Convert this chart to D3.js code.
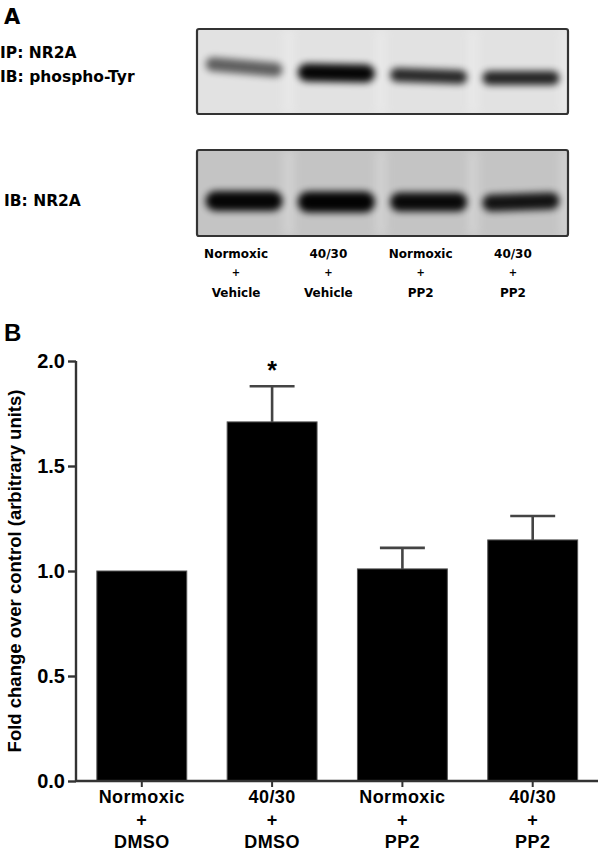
<!DOCTYPE html>
<html>
<head>
<meta charset="utf-8">
<script src="https://cdn.jsdelivr.net/npm/d3@7"></script>
<style>
  body { margin: 0; background: #fff; }
  svg { display: block; }
</style>
</head>
<body>
<script>
// panel A: blot lanes and band strengths (0..1)
var blotLanes = ['Normoxic + Vehicle', '40/30 + Vehicle', 'Normoxic + PP2', '40/30 + PP2'];
var blotLaneLines = [['Normoxic', '+', 'Vehicle'], ['40/30', '+', 'Vehicle'], ['Normoxic', '+', 'PP2'], ['40/30', '+', 'PP2']];
var phosphoBand = [0.58, 0.97, 0.82, 0.84];
var totalBand = [0.97, 0.98, 0.95, 0.9];

// panel B: fold change over control
var groups = ['Normoxic + DMSO', '40/30 + DMSO', 'Normoxic + PP2', '40/30 + PP2'];
var groupLines = [['Normoxic', '+', 'DMSO'], ['40/30', '+', 'DMSO'], ['Normoxic', '+', 'PP2'], ['40/30', '+', 'PP2']];
var foldChange = [1.0, 1.71, 1.01, 1.148];
var sem = [0, 0.17, 0.1, 0.114];
var significant = [false, true, false, false];
var yTicks = [0.0, 0.5, 1.0, 1.5, 2.0];

var width = 600, height = 852;

var svg = d3.select('body').append('svg')
    .attr('width', width)
    .attr('height', height);

var defs = svg.append('defs');
defs.append('filter').attr('id', 'blur')
    .attr('x', '-30%').attr('y', '-150%').attr('width', '160%').attr('height', '400%')
  .append('feGaussianBlur').attr('stdDeviation', 3.8);
defs.append('filter').attr('id', 'soft')
    .attr('x', '-100%').attr('width', '300%')
  .append('feGaussianBlur').attr('stdDeviation', 5);

var labelFont = '"DejaVu Sans", "Noto Sans", sans-serif';
var plotFont = '"Liberation Sans", Arial, sans-serif';

// ---------- panel A ----------
svg.append('text')
    .attr('x', 4).attr('y', 24)
    .style('font', 'bold 21px ' + labelFont)
    .text('A');

var lane = d3.scaleBand().domain(blotLanes).range([197, 568]).paddingInner(0.1).paddingOuter(0.06);

var rowLabels = [
  { text: 'IP: NR2A', x: 0, y: 58 },
  { text: 'IB: phospho-Tyr', x: 0, y: 82 },
  { text: 'IB: NR2A', x: 4, y: 206 }
];
svg.selectAll('.rowlabel')
    .data(rowLabels)
  .enter().append('text')
    .attr('class', 'rowlabel')
    .attr('x', function(d) { return d.x; })
    .attr('y', function(d) { return d.y; })
    .style('font', 'bold 15.5px ' + labelFont)
    .text(function(d) { return d.text; });

function drawBlot(top, bottom, bg, bands, bandY, bandH, tilt) {
  var g = svg.append('g');
  g.append('rect')
      .attr('x', 197).attr('y', top)
      .attr('width', 371).attr('height', bottom - top)
      .attr('fill', bg);
  // faint lighter gaps between lanes
  g.selectAll('.streak')
      .data(blotLanes)
    .enter().append('rect')
      .attr('x', function(d) { return lane(d) + lane.bandwidth() - 2; })
      .attr('y', top)
      .attr('width', 10)
      .attr('height', bottom - top)
      .attr('fill', '#fff')
      .attr('opacity', 0.25)
      .attr('filter', 'url(#soft)');
  g.selectAll('.band')
      .data(bands)
    .enter().append('rect')
      .attr('x', function(d, i) { return lane(blotLanes[i]) + 3; })
      .attr('y', function(d, i) { return bandY[i] - bandH[i] / 2; })
      .attr('width', lane.bandwidth() - 6)
      .attr('height', function(d, i) { return bandH[i]; })
      .attr('rx', function(d, i) { return bandH[i] / 2; })
      .attr('fill', '#000')
      .attr('opacity', function(d) { return d; })
      .attr('transform', function(d, i) {
        var cx = lane(blotLanes[i]) + lane.bandwidth() / 2;
        return 'rotate(' + tilt[i] + ',' + cx + ',' + bandY[i] + ')';
      })
      .attr('filter', 'url(#blur)');
  g.append('rect')
      .attr('x', 197).attr('y', top)
      .attr('width', 371).attr('height', bottom - top)
      .attr('rx', 2)
      .attr('fill', 'none')
      .attr('stroke', '#333')
      .attr('stroke-width', 2.2);
}

drawBlot(29, 114, '#e2e2e2', phosphoBand, [67, 73, 76, 78], [14, 18, 14, 14], [5, 1, 2, 0]);
drawBlot(150, 236, '#c4c4c4', totalBand, [201, 202, 202, 202], [20, 21, 19, 17], [0, 0, 0, -2]);

var laneLabel = svg.selectAll('.lanelabel')
    .data(blotLaneLines)
  .enter().append('text')
    .attr('class', 'lanelabel')
    .attr('text-anchor', 'middle')
    .style('font', 'bold 12px ' + labelFont);
laneLabel.selectAll('tspan')
    .data(function(d, i) { return d.map(function(t) { return { t: t, i: i }; }); })
  .enter().append('tspan')
    .attr('x', function(d) { return lane(blotLanes[d.i]) + lane.bandwidth() / 2 - 8; })
    .attr('y', function(d, j) { return [258, 276, 297][j]; })
    .style('font-size', function(d, j) { return j == 1 ? '10px' : null; })
    .text(function(d) { return d.t; });

// ---------- panel B ----------
svg.append('text')
    .attr('x', 4).attr('y', 341)
    .style('font', 'bold 24px ' + plotFont)
    .text('B');

var x = d3.scaleBand().domain(groups).range([76, 598.5]).paddingInner(0.31).paddingOuter(0.16);
var y = d3.scaleLinear().domain([0, 2]).range([781, 361]);

var plot = svg.append('g');

plot.selectAll('.bar')
    .data(foldChange)
  .enter().append('rect')
    .attr('class', 'bar')
    .attr('x', function(d, i) { return x(groups[i]); })
    .attr('y', function(d) { return y(d); })
    .attr('width', x.bandwidth())
    .attr('height', function(d) { return y(0) - y(d); })
    .attr('fill', '#000')
    .attr('stroke', '#555')
    .attr('stroke-width', 1);

// upper error bars (SEM) and significance star
var errData = foldChange.map(function(v, i) { return { g: groups[i], v: v, e: sem[i], s: significant[i] }; });
var eg = plot.selectAll('.err')
    .data(errData.filter(function(d) { return d.e > 0; }))
  .enter().append('g')
    .attr('class', 'err')
    .attr('stroke', '#444')
    .attr('stroke-width', 2.6);
eg.append('line')
    .attr('x1', function(d) { return x(d.g) + x.bandwidth() / 2; })
    .attr('x2', function(d) { return x(d.g) + x.bandwidth() / 2; })
    .attr('y1', function(d) { return y(d.v); })
    .attr('y2', function(d) { return y(d.v + d.e); });
eg.append('line')
    .attr('x1', function(d) { return x(d.g) + x.bandwidth() / 4; })
    .attr('x2', function(d) { return x(d.g) + x.bandwidth() * 3 / 4; })
    .attr('y1', function(d) { return y(d.v + d.e); })
    .attr('y2', function(d) { return y(d.v + d.e); });

plot.selectAll('.star')
    .data(errData.filter(function(d) { return d.s; }))
  .enter().append('text')
    .attr('x', function(d) { return x(d.g) + x.bandwidth() / 2; })
    .attr('y', function(d) { return y(d.v + d.e) - 7; })
    .attr('text-anchor', 'middle')
    .style('font', 'bold 25px ' + plotFont)
    .text('*');

// axes
var yAxis = plot.append('g')
    .attr('transform', 'translate(76,0)')
    .call(d3.axisLeft(y).tickValues(yTicks).tickFormat(d3.format('.1f')).tickSize(8).tickPadding(3));
yAxis.select('.domain').attr('stroke', '#333').attr('stroke-width', 2.4).attr('d', 'M0,' + y(2) + 'V' + y(0));
yAxis.selectAll('.tick line').attr('stroke', '#333').attr('stroke-width', 2.4);
yAxis.selectAll('.tick text')
    .attr('fill', '#000')
    .style('font', 'bold 20px ' + plotFont);

var xAxis = plot.append('g')
    .attr('transform', 'translate(0,' + y(0) + ')')
    .call(d3.axisBottom(x).tickSize(6).tickFormat(''));
xAxis.select('.domain').attr('stroke', '#333').attr('stroke-width', 2.4).attr('d', 'M76,0H598');
xAxis.selectAll('.tick line').attr('stroke', '#333').attr('stroke-width', 2);

var xl = plot.selectAll('.xlabel')
    .data(groupLines)
  .enter().append('text')
    .attr('class', 'xlabel')
    .attr('text-anchor', 'middle')
    .style('font', 'bold 18px ' + plotFont)
    .style('letter-spacing', '0.4px');
xl.selectAll('tspan')
    .data(function(d, i) { return d.map(function(t) { return { t: t, g: groups[i] }; }); })
  .enter().append('tspan')
    .attr('x', function(d) { return x(d.g) + x.bandwidth() / 2; })
    .attr('y', function(d, j) { return [803, 826, 848][j]; })
    .text(function(d) { return d.t; });

svg.append('text')
    .attr('transform', 'translate(21,' + (y(0) + y(2)) / 2 + ') rotate(-90)')
    .attr('text-anchor', 'middle')
    .style('font', 'bold 18.5px ' + plotFont)
    .text('Fold change over control (arbitrary units)');
</script>
</body>
</html>
